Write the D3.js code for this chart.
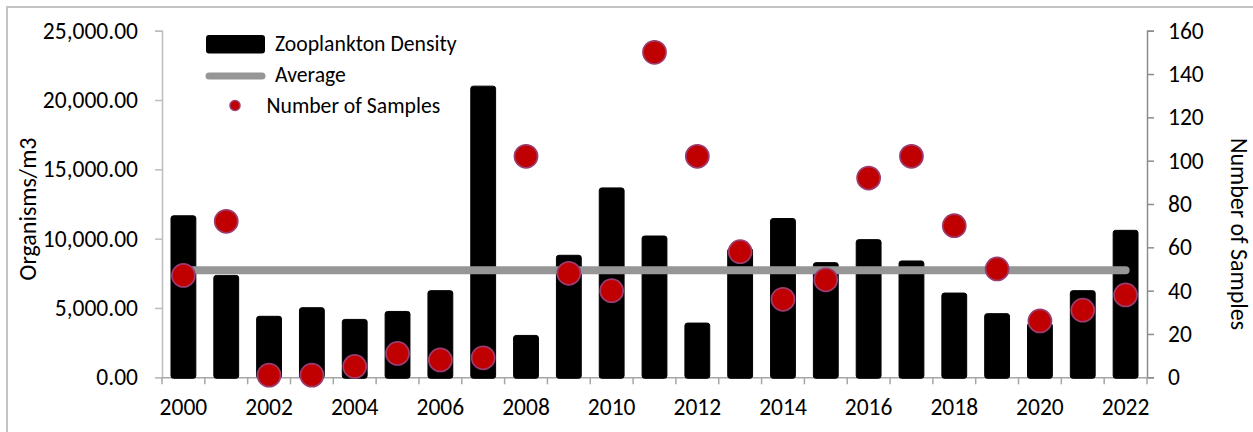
<!DOCTYPE html>
<html>
<head>
<meta charset="utf-8">
<script src="https://cdn.jsdelivr.net/npm/d3@7"></script>
<style>
  html, body { margin: 0; padding: 0; background: #fff; }
  svg text { font-family: Carlito, Calibri, Lato, sans-serif; fill: #000; }
</style>
</head>
<body>
<svg id="chart" width="1253" height="432"></svg>
<script>
// Zooplankton density by year with sample counts
const years = ["2000","2001","2002","2003","2004","2005","2006","2007","2008","2009","2010","2011",
               "2012","2013","2014","2015","2016","2017","2018","2019","2020","2021","2022"];
const density = [11650, 7350, 4400, 5020, 4175, 4750, 6250, 21000, 3020, 8800, 13660, 10190,
                 3910, 9300, 11450, 8270, 9930, 8390, 6075, 4590, 3900, 6250, 10600];
const samples = [47, 72, 1, 1, 5, 11, 8, 9, 102, 48, 40, 150,
                 102, 58, 36, 45, 92, 102, 70, 50, 26, 31, 38];
const averageDensity = [7720];
const leftTicks = [0, 5000, 10000, 15000, 20000, 25000];
const rightTicks = [0, 20, 40, 60, 80, 100, 120, 140, 160];
const legendLabels = ["Zooplankton Density", "Average", "Number of Samples"];

const svg = d3.select("#chart");
const plotLeft = 162, plotRight = 1147, plotTop = 30.7, plotBottom = 377.3;
const tickFont = 23.5, titleFont = 24, legendFont = 21.7;

// outer frame
svg.append("rect")
  .attr("x", 7).attr("y", 7).attr("width", 1260).attr("height", 440)
  .attr("fill", "none").attr("stroke", "#c4c4c4").attr("stroke-width", 2);

const x = d3.scaleBand().domain(years).range([plotLeft, plotRight])
  .paddingInner(0.42).paddingOuter(0.21);
const yL = d3.scaleLinear().domain([0, 25000]).range([plotBottom, plotTop]);
const yR = d3.scaleLinear().domain([0, 160]).range([plotBottom, plotTop]);

// left axis
const gL = svg.append("g").attr("transform", `translate(${plotLeft},0)`)
  .call(d3.axisLeft(yL).tickValues(leftTicks).tickFormat(d3.format(",.2f"))
        .tickSize(7).tickPadding(17));
gL.select(".domain").attr("stroke", "#bdbdbd").attr("stroke-width", 1.5);
gL.selectAll(".tick line").attr("stroke", "#bdbdbd").attr("stroke-width", 1.5);
gL.selectAll(".tick text").attr("font-size", tickFont).style("font-family", null);

// right axis
const gR = svg.append("g").attr("transform", `translate(${plotRight},0)`)
  .call(d3.axisRight(yR).tickValues(rightTicks).tickSize(7).tickPadding(14));
gR.select(".domain").attr("stroke", "#8c8c8c").attr("stroke-width", 1.5);
gR.selectAll(".tick line").attr("stroke", "#8c8c8c").attr("stroke-width", 1.5);
gR.selectAll(".tick text").attr("font-size", tickFont).style("font-family", null);

// bottom axis: labels on every other year, ticks between categories
const gB = svg.append("g").attr("transform", `translate(0,${plotBottom})`)
  .call(d3.axisBottom(x).tickSize(0).tickPadding(21)
        .tickFormat((d, i) => i % 2 === 0 ? d : ""));
gB.select(".domain").attr("stroke", "#a6a6a6").attr("stroke-width", 1.5);
gB.selectAll(".tick text").attr("font-size", tickFont).style("font-family", null);
const boundaries = years.map(d => x(d) - x.step() * x.paddingInner() / 2)
  .concat([x(years[years.length - 1]) + x.bandwidth() + x.step() * x.paddingInner() / 2]);
gB.selectAll(".bound").data(boundaries).join("line")
  .attr("class", "bound")
  .attr("x1", d => d).attr("x2", d => d).attr("y1", 0).attr("y2", 7)
  .attr("stroke", "#a6a6a6").attr("stroke-width", 1.5);

// bars
svg.append("g").selectAll("rect").data(years).join("rect")
  .attr("x", d => x(d))
  .attr("y", (d, i) => yL(density[i]))
  .attr("width", x.bandwidth())
  .attr("height", (d, i) => yL(0) - yL(density[i]) + 1)
  .attr("rx", 2.5)
  .attr("fill", "#000").attr("stroke", "#000").attr("stroke-width", 1)
  .attr("stroke-linejoin", "round");

// average line
const xc = d => x(d) + x.bandwidth() / 2;
svg.append("line")
  .attr("x1", xc(years[0])).attr("x2", xc(years[years.length - 1]))
  .attr("y1", yL(averageDensity[0])).attr("y2", yL(averageDensity[0]))
  .attr("stroke", "#969696").attr("stroke-width", 8).attr("stroke-linecap", "round");

// sample counts
svg.append("g").selectAll("circle").data(years).join("circle")
  .attr("cx", d => xc(d))
  .attr("cy", (d, i) => yR(samples[i]))
  .attr("r", 11.5)
  .attr("fill", "#c00000").attr("stroke", "#9b3b6e").attr("stroke-width", 1.75);

// axis titles
svg.append("text")
  .attr("transform", `translate(36,209) rotate(-90)`)
  .attr("text-anchor", "middle").attr("font-size", titleFont).text("Organisms/m3");
svg.append("text")
  .attr("transform", `translate(1230.5,234) rotate(90)`)
  .attr("text-anchor", "middle").attr("font-size", titleFont).text("Number of Samples");

// legend
const lg = svg.append("g");
lg.append("rect").attr("x", 206).attr("y", 35).attr("width", 59).attr("height", 18.5)
  .attr("rx", 3).attr("fill", "#000");
lg.append("line").attr("x1", 209).attr("x2", 262).attr("y1", 76).attr("y2", 76)
  .attr("stroke", "#969696").attr("stroke-width", 7).attr("stroke-linecap", "round");
lg.append("circle").attr("cx", 235).attr("cy", 105.5).attr("r", 5)
  .attr("fill", "#c00000").attr("stroke", "#9b3b6e").attr("stroke-width", 1.5);
lg.append("text").attr("x", 275).attr("y", 51).attr("font-size", legendFont).text(legendLabels[0]);
lg.append("text").attr("x", 275).attr("y", 82).attr("font-size", legendFont).text(legendLabels[1]);
lg.append("text").attr("x", 266.5).attr("y", 112.5).attr("font-size", legendFont).text(legendLabels[2]);
</script>
</body>
</html>
